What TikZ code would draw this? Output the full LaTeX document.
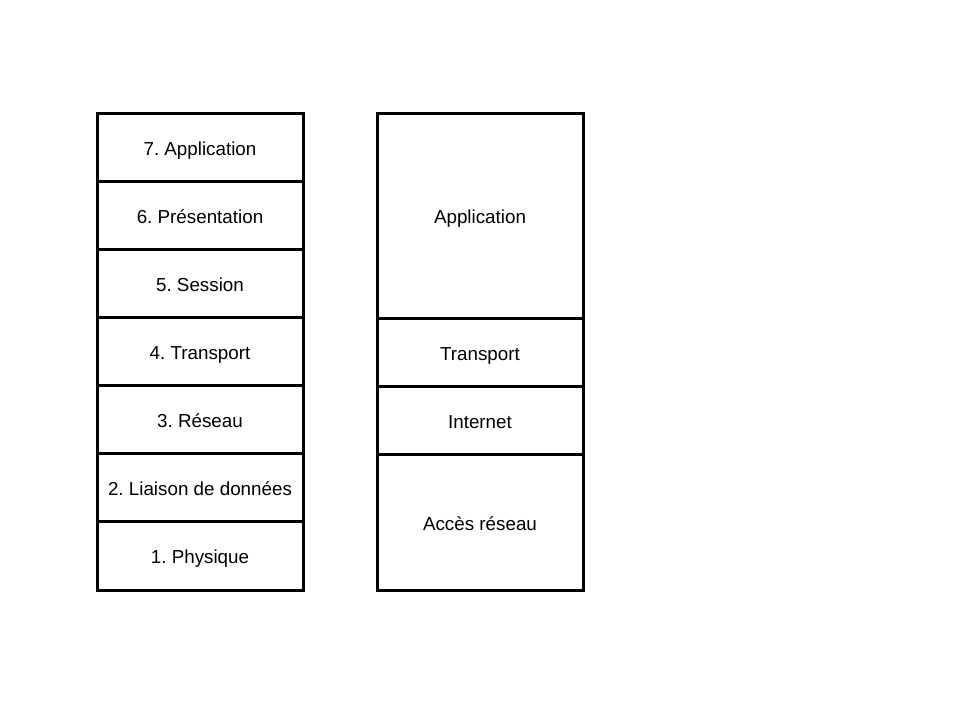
\documentclass[tikz,border=0pt]{standalone}
\usepackage{fontspec}
\setmainfont{Liberation Sans}
\frenchspacing
\begin{document}
\begin{tikzpicture}[x=1pt,y=-1pt,
  layer/.style={draw=black, line width=3pt, minimum width=206pt, inner sep=0pt, outer sep=0pt, text height=16pt, text depth=0pt, font=\fontsize{18.8}{20}\selectfont, text=black}]
\useasboundingbox (0,0) rectangle (960,720);
\node[layer, minimum height=68.14pt] (l7) at (200,147.07) {7. Application};
\node[layer, minimum height=68.14pt] (l6) at (200,215.21) {6. Présentation};
\node[layer, minimum height=68.14pt] (l5) at (200,283.36) {5. Session};
\node[layer, minimum height=68.14pt] (l4) at (200,351.5) {4. Transport};
\node[layer, minimum height=68.14pt] (l3) at (200,419.64) {3. Réseau};
\node[layer, minimum height=68.14pt] (l2) at (200,487.79) {2. Liaison de données};
\node[layer, minimum height=68.14pt] (l1) at (200,555.93) {1. Physique};
\node[layer, minimum height=205pt] (ta) at (480,215.5) {Application};
\node[layer, minimum height=68pt] (tt) at (480,352) {Transport};
\node[layer, minimum height=68pt] (ti) at (480,420) {Internet};
\node[layer, minimum height=136pt] (tn) at (480,522) {Accès réseau};
\end{tikzpicture}
\end{document}
